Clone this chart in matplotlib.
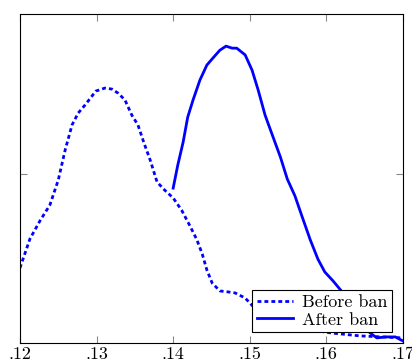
import matplotlib
matplotlib.use("Agg")
import matplotlib.pyplot as plt

plt.rcParams['font.family'] = ['cmr10', 'DejaVu Serif']
plt.rcParams['axes.formatter.use_mathtext'] = True

# before ban (dotted)
before_x = [.1200, .1213, .1226, .1239, .1250, .1259, .1268, .1276, .1285, .1299,
            .1311, .1320, .1328, .1337, .1346, .1354, .1362, .1370, .1379, .1389,
            .1400, .1411, .1422, .1431, .1438, .1444, .1451, .1461, .1472, .1481,
            .1494, .1504, .1513, .1533, .1566, .1605, .1644, .1700]
before_y = [22.2, 30.8, 36.1, 40.8, 48.2, 57.1, 64.5, 68.0, 70.4, 74.5,
            75.4, 75.1, 73.9, 71.9, 67.4, 64.5, 59.1, 54.1, 47.6, 45.2,
            42.9, 39.3, 34.6, 30.5, 26.3, 21.6, 17.7, 15.4, 15.1, 14.8,
            13.3, 10.9, 9.2, 6.8, 4.4, 3.0, 2.1, 1.5]

# after ban (solid)
after_x = [.1400, .1406, .1413, .1419, .1426, .1435, .1444, .1452, .1461, .1469,
           .1477, .1483, .1494, .1503, .1511, .1520, .1529, .1540, .1549, .1559,
           .1568, .1579, .1589, .1598, .1609, .1624, .1641, .1657, .1666, .1677,
           .1690, .1700]
after_y = [45.8, 52.6, 59.4, 66.8, 71.9, 77.8, 82.2, 84.3, 86.6, 87.8,
           87.2, 87.2, 85.2, 80.7, 74.8, 67.4, 61.8, 55.0, 48.5, 43.5,
           37.6, 30.5, 24.8, 21.0, 18.3, 14.2, 7.4, 3.0, 1.5, 1.8,
           1.8, 0.6]

xticks = [.12, .13, .14, .15, .16, .17]
xlabels = ['.12', '.13', '.14', '.15', '.16', '.17']

fig = plt.figure(figsize=(4.12, 3.63), dpi=100)
ax = fig.add_axes([0.0485, 0.0551, 0.9295, 0.9063])

ax.plot(before_x, before_y, color='blue', lw=2.0, linestyle=(0, (1.4, 1.1)),
        label='Before ban')
ax.plot(after_x, after_y, color='blue', lw=2.0, label='After ban')

ax.set_xlim(.12, .17)
ax.set_ylim(0, 97.3)
ax.set_xticks(xticks)
ax.set_xticklabels(xlabels)
ax.set_yticks([50])
ax.set_yticklabels([])
ax.tick_params(direction='in', top=True, right=True, length=5, width=0.8,
               color='#888888', labelsize=13, pad=3)
for s in ax.spines.values():
    s.set_linewidth(0.8)

leg = ax.legend(loc='lower right', fontsize=13, fancybox=False, framealpha=1,
                edgecolor='black', handlelength=2.0, borderaxespad=0.6,
                labelspacing=0.1, borderpad=0.25, handletextpad=0.5)
leg.get_frame().set_linewidth(0.8)

fig.savefig('out.png', dpi=100)
